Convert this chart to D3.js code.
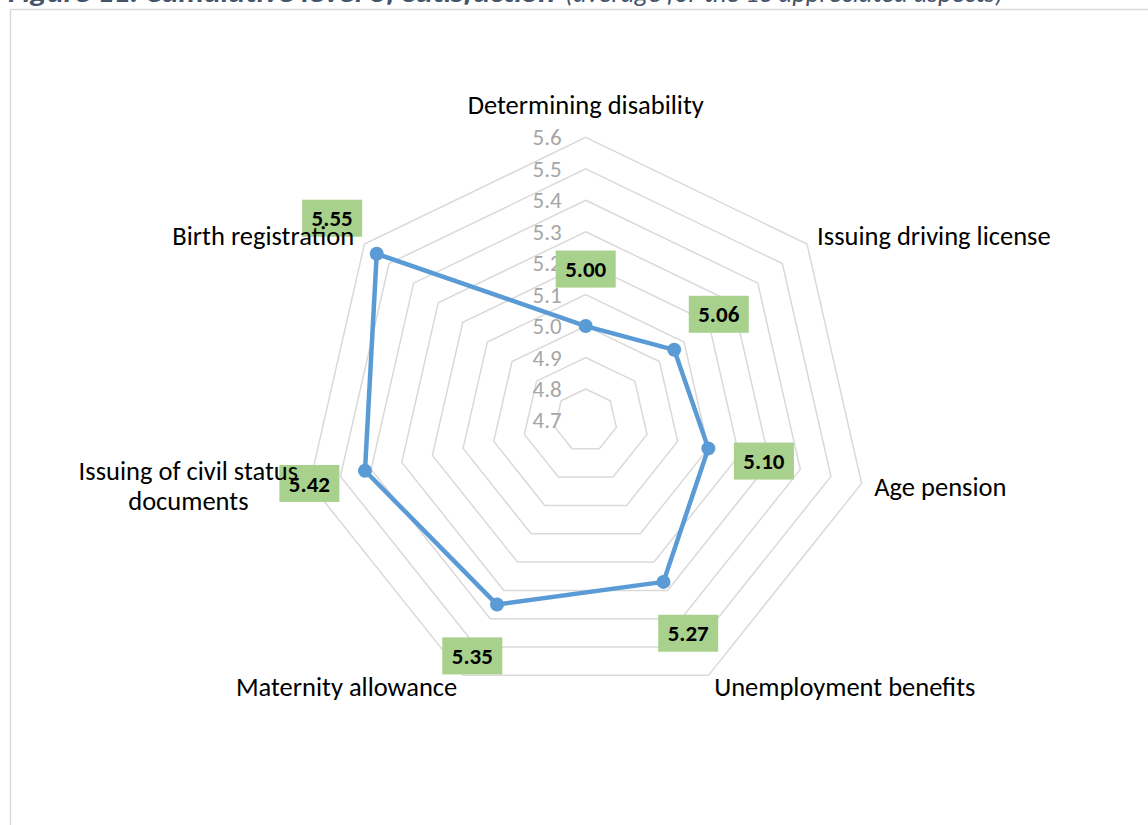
<!DOCTYPE html>
<html>
<head>
<meta charset="utf-8">
<script src="https://cdn.jsdelivr.net/npm/d3@7"></script>
<style>
  html, body { margin: 0; padding: 0; background: #fff; overflow: hidden; }
  svg { display: block; }
  .f { font-family: Carlito, Calibri, Lato, "Open Sans", sans-serif; }
</style>
</head>
<body>
<svg id="chart" width="1148" height="825"></svg>
<script>
const categories = [
  "Determining disability",
  "Issuing driving license",
  "Age pension",
  "Unemployment benefits",
  "Maternity allowance",
  "Issuing of civil status documents",
  "Birth registration"
];
const values = [5.00, 5.06, 5.10, 5.27, 5.35, 5.42, 5.55];
const tickValues = [4.7, 4.8, 4.9, 5.0, 5.1, 5.2, 5.3, 5.4, 5.5, 5.6];
const titleBold = "Figure 11: Cumulative level of satisfaction";
const titleRest = "(average for the 13 appreciated aspects)";

const svg = d3.select("#chart");
const cx = 585.7, cy = 420.4, R = 283;
const n = categories.length;
const rScale = d3.scaleLinear().domain([4.7, 5.6]).range([0, R]);
const angle = i => i * 2 * Math.PI / n;
const px = (i, r) => cx + r * Math.sin(angle(i));
const py = (i, r) => cy - r * Math.cos(angle(i));

// title (clipped at the top)
svg.append("text").attr("class", "f")
  .attr("x", 8).attr("y", 2)
  .attr("fill", "#44546a").attr("font-size", 27).attr("font-style", "italic").attr("font-weight", "bold")
  .attr("textLength", 547).attr("lengthAdjust", "spacingAndGlyphs")
  .text(titleBold);
svg.append("text").attr("class", "f")
  .attr("x", 565).attr("y", 2)
  .attr("fill", "#44546a").attr("font-size", 27).attr("font-style", "italic")
  .attr("textLength", 438).attr("lengthAdjust", "spacingAndGlyphs")
  .text(titleRest);

// chart border
svg.append("rect").attr("x", 10.5).attr("y", 9.5).attr("width", 1200).attr("height", 900)
  .attr("fill", "none").attr("stroke", "#d9d9d9").attr("stroke-width", 1.5);

// rings
const ringLine = d3.lineRadial().angle((d, i) => angle(i)).radius(d => d).curve(d3.curveLinearClosed);
const g = svg.append("g").attr("transform", `translate(${cx},${cy})`);
g.selectAll("path.ring").data(tickValues.filter(t => t > 4.7)).join("path")
  .attr("class", "ring")
  .attr("d", t => ringLine(d3.range(n).map(() => rScale(t))))
  .attr("fill", "none").attr("stroke", "#d9d9d9").attr("stroke-width", 1.5);

// tick labels
svg.selectAll("text.tick").data(tickValues).join("text")
  .attr("class", "tick f")
  .attr("x", cx - 24).attr("y", t => cy - rScale(t))
  .attr("dy", "0.35em")
  .attr("text-anchor", "end").attr("font-size", 23).attr("fill", "#a6a6a6")
  .text(t => d3.format(".1f")(t));

// series line
const seriesLine = d3.lineRadial().angle((d, i) => angle(i)).radius(d => rScale(d)).curve(d3.curveLinearClosed);
g.append("path").attr("d", seriesLine(values))
  .attr("fill", "none").attr("stroke", "#5b9bd5").attr("stroke-width", 4.5)
  .attr("stroke-linejoin", "round");
g.selectAll("circle").data(values).join("circle")
  .attr("cx", (d, i) => rScale(d) * Math.sin(angle(i)))
  .attr("cy", (d, i) => -rScale(d) * Math.cos(angle(i)))
  .attr("r", 7).attr("fill", "#5b9bd5");

// data labels
const lab = svg.selectAll("g.dl").data(values).join("g").attr("class", "dl")
  .attr("transform", (d, i) => `translate(${px(i, rScale(d) + 57)},${py(i, rScale(d) + 57)})`);
lab.append("rect").attr("x", -30).attr("y", -18.5).attr("width", 60).attr("height", 37)
  .attr("fill", "#a9d18e");
lab.append("text").attr("class", "f").attr("text-anchor", "middle").attr("dy", "0.35em")
  .attr("font-size", 23).attr("font-weight", "bold").attr("fill", "#000")
  .text(d => d3.format(".2f")(d));

// category labels
const pad = 13, fs = 26.5;
categories.forEach((c, i) => {
  const s = Math.sin(angle(i));
  const x = px(i, R + pad), y = py(i, R + pad);
  const anchor = s > 0.1 ? "start" : (s < -0.1 ? "end" : "middle");
  const t = svg.append("text").attr("class", "f cat")
    .attr("font-size", fs).attr("fill", "#000").attr("text-anchor", anchor)
    .attr("x", x).attr("y", y);
  if (anchor === "middle") {
    t.attr("y", y - 10).text(c);
    return;
  }
  t.attr("dy", "0.35em").text(c);
  const w = t.node().getComputedTextLength();
  if (anchor === "end" && x - w < 30) {
    // wrap into two lines, centred block
    const words = c.split(" ");
    let line1 = [], line2 = [];
    t.text("");
    const probe = svg.append("text").attr("class", "f").attr("font-size", fs);
    for (const wd of words) {
      probe.text([...line1, wd].join(" "));
      if (line2.length === 0 && probe.node().getComputedTextLength() < 250) line1.push(wd);
      else line2.push(wd);
    }
    probe.text(line1.join(" "));
    const w1 = probe.node().getComputedTextLength();
    probe.remove();
    const mx = x - w1 / 2 + 1;
    t.attr("text-anchor", "middle").attr("dy", null);
    t.append("tspan").attr("x", mx).attr("y", y - 16).attr("dy", "0.35em").text(line1.join(" "));
    t.append("tspan").attr("x", mx).attr("y", y + 14).attr("dy", "0.35em").text(line2.join(" "));
  }
});
</script>
</body>
</html>
